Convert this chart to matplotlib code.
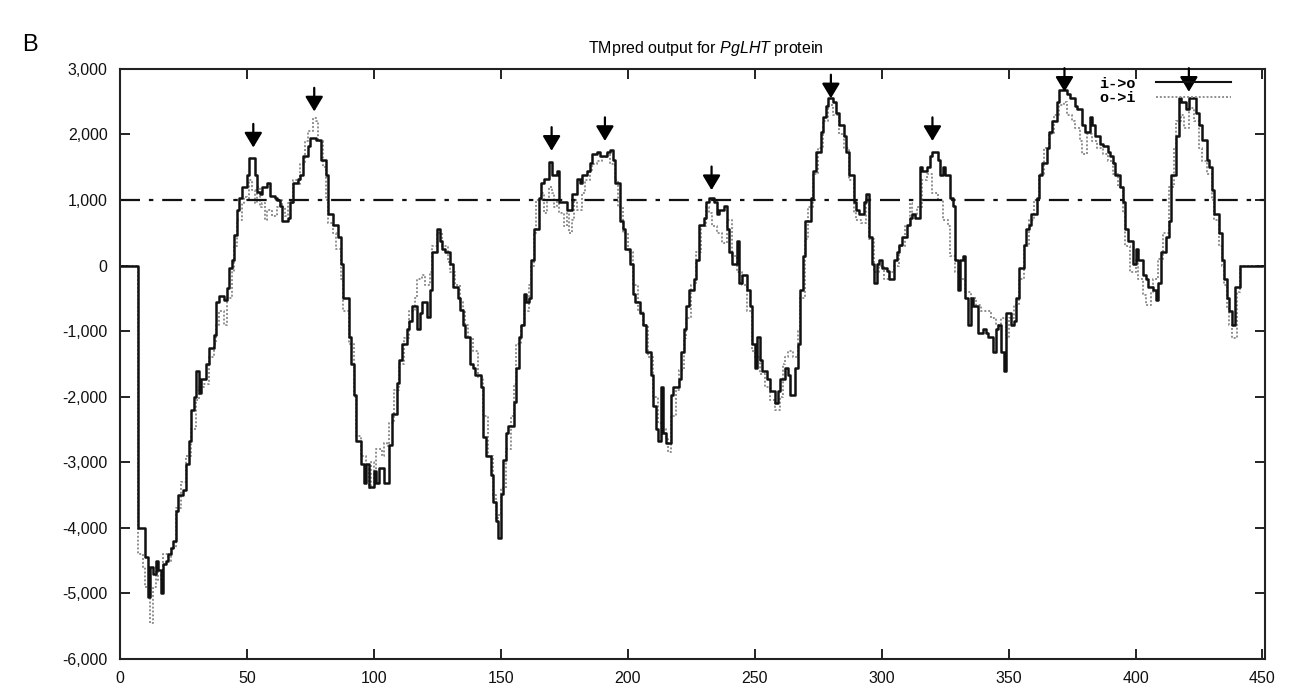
import matplotlib
matplotlib.use('Agg')
import matplotlib.pyplot as plt
from matplotlib.lines import Line2D

plt.rcParams['font.family'] = ['Liberation Sans', 'DejaVu Sans']
plt.rcParams['mathtext.fontset'] = 'custom'
plt.rcParams['mathtext.rm'] = 'Liberation Sans'
plt.rcParams['mathtext.it'] = 'Liberation Sans:italic'

# i->o orientation (solid black)
io_pos = [0, 7, 10, 11, 12, 13, 14, 15, 16, 17, 18, 19, 20, 21, 22, 23, 25, 26, 27, 28, 29, 30,
          31, 32, 34, 35, 37, 38, 39, 41, 42, 43, 44, 45, 46, 47, 48, 50, 51, 53, 54, 55, 56, 58,
          59, 61, 62, 63, 64, 66, 67, 68, 70, 71, 72, 74, 75, 77, 79, 81, 82, 84, 86, 87, 88, 90,
          91, 92, 93, 95, 96, 97, 98, 100, 101, 102, 104, 106, 107, 109, 110, 111, 113, 114, 115,
          117, 118, 119, 121, 122, 123, 125, 126, 127, 128, 130, 131, 133, 134, 135, 136, 138, 139,
          140, 142, 143, 144, 146, 147, 148, 149, 150, 151, 152, 153, 155, 156, 157, 158, 159, 160,
          161, 162, 163, 165, 166, 167, 169, 170, 172, 173, 176, 178, 180, 181, 182, 184, 185, 186,
          188, 189, 192, 193, 194, 195, 197, 198, 199, 201, 202, 203, 205, 206, 207, 209, 210, 211,
          212, 213, 214, 215, 217, 218, 220, 221, 222, 223, 224, 226, 227, 228, 230, 231, 232, 234,
          235, 236, 238, 239, 240, 241, 243, 244, 245, 247, 248, 249, 250, 251, 252, 253, 255, 256,
          258, 259, 260, 262, 263, 264, 266, 267, 268, 269, 270, 272, 273, 274, 276, 277, 278, 279,
          281, 282, 283, 285, 286, 287, 289, 290, 291, 293, 294, 295, 296, 297, 298, 299, 300, 302,
          303, 305, 306, 307, 308, 310, 311, 312, 313, 315, 316, 318, 319, 320, 322, 323, 324, 325,
          327, 328, 329, 330, 331, 332, 333, 334, 335, 336, 338, 340, 341, 342, 344, 345, 346, 347,
          348, 349, 351, 352, 353, 354, 356, 357, 358, 359, 361, 362, 363, 365, 366, 367, 369, 370,
          372, 373, 374, 376, 377, 379, 380, 382, 383, 384, 386, 387, 389, 390, 391, 392, 394, 395,
          396, 397, 399, 400, 401, 403, 404, 405, 407, 408, 409, 410, 412, 413, 414, 416, 417, 418,
          420, 421, 423, 424, 425, 426, 428, 429, 430, 431, 433, 434, 435, 436, 437, 438, 439, 441,
          450]
io_val = [0, -4000, -4450, -5050, -4600, -4700, -4500, -4650, -5000, -4550, -4500, -4400, -4300,
          -4200, -3750, -3500, -3430, -3020, -2670, -2200, -2000, -1610, -1950, -1730, -1500, -1260,
          -1060, -560, -470, -530, -350, -30, 90, 470, 850, 1030, 1200, 1380, 1640, 1380, 1115,
          1090, 1200, 1260, 1060, 1030, 1000, 910, 675, 730, 970, 1260, 1320, 1380, 1670, 1820,
          1940, 1910, 1610, 1380, 790, 615, 440, 30, -500, -1090, -1500, -1970, -2670, -3020,
          -3320, -3020, -3380, -3140, -3320, -3080, -3320, -2730, -2260, -1790, -1440, -1200,
          -970, -850, -620, -970, -730, -560, -790, -380, 200, 560, 380, 260, 200, 30, -320, -500,
          -680, -910, -1090, -1500, -1560, -1670, -1850, -2610, -2910, -3200, -3610, -3900, -4150,
          -3490, -2960, -2550, -2440, -2080, -1560, -1090, -910, -440, -560, -500, 90, 560, 1030,
          1260, 1320, 1580, 1380, 1440, 970, 850, 1090, 1320, 1260, 1380, 1440, 1560, 1700, 1730,
          1670, 1730, 1760, 1610, 1260, 675, 560, 260, 30, -440, -560, -730, -910, -1320, -1670,
          -2140, -2500, -2670, -1850, -2550, -2700, -1970, -1850, -1730, -1320, -970, -620, -380,
          -200, 90, 615, 730, 970, 1030, 970, 790, 850, 910, 560, 200, 30, 380, -260, -150, -380,
          -620, -1200, -1560, -1090, -1440, -1610, -1730, -1910, -2100, -1910, -1730, -1560, -1670,
          -1970, -1560, -1200, -380, 150, 675, 1030, 1440, 1730, 2030, 2260, 2440, 2550, 2500,
          2320, 2140, 1970, 1730, 1380, 970, 850, 790, 970, 1090, 440, 30, -260, 30, 90, -30, -90,
          -200, 90, 200, 320, 440, 615, 730, 790, 730, 1500, 1440, 1500, 1670, 1730, 1610, 1380,
          1500, 1380, 1030, 910, 90, -380, 90, 150, -500, -910, -500, -620, -1030, -970, -1030,
          -1090, -1320, -970, -910, -1320, -1610, -730, -910, -850, -500, -30, 320, 560, 615, 790,
          1030, 1380, 1560, 1790, 2030, 2200, 2500, 2670, 2670, 2610, 2550, 2440, 2380, 2140,
          2030, 2260, 2140, 1970, 1850, 1820, 1730, 1670, 1560, 1380, 1200, 970, 560, 380, 30, 260,
          90, -150, -200, -320, -380, -530, -260, 200, 440, 675, 1380, 1970, 2550, 2500, 2380,
          2550, 2550, 2320, 2140, 1910, 1610, 1500, 1150, 790, 500, 90, -200, -500, -700, -900,
          -320, 0, 0]

# o->i orientation (grey dotted)
oi_pos = [0, 7, 9, 10, 12, 13, 14, 15, 16, 17, 19, 20, 22, 24, 26, 28, 30, 31, 33, 35, 37, 38,
          39, 41, 42, 44, 45, 46, 48, 49, 50, 51, 52, 53, 54, 55, 56, 57, 58, 60, 62, 63, 64, 65,
          66, 68, 70, 71, 73, 74, 76, 77, 78, 80, 81, 82, 84, 85, 87, 88, 90, 92, 93, 95, 97, 98,
          99, 100, 101, 103, 104, 105, 106, 108, 110, 112, 114, 116, 117, 119, 120, 122, 123, 125,
          127, 129, 130, 132, 134, 135, 136, 137, 139, 141, 143, 145, 147, 148, 149, 150, 152, 154,
          155, 156, 158, 159, 161, 162, 163, 164, 166, 167, 168, 169, 170, 171, 172, 173, 175, 176,
          177, 178, 179, 180, 182, 183, 185, 186, 188, 190, 192, 193, 195, 196, 198, 200, 202, 204,
          206, 208, 210, 212, 214, 215, 216, 217, 219, 220, 222, 223, 225, 227, 229, 231, 232, 233,
          235, 237, 239, 241, 243, 245, 247, 249, 250, 252, 254, 256, 258, 260, 261, 262, 263, 265,
          267, 268, 270, 271, 273, 275, 277, 279, 281, 283, 285, 287, 289, 290, 292, 294, 295, 297,
          299, 301, 303, 305, 307, 309, 311, 312, 314, 316, 318, 320, 322, 324, 326, 327, 329, 331,
          333, 335, 337, 339, 341, 343, 345, 347, 349, 350, 352, 354, 356, 358, 360, 362, 364, 366,
          368, 370, 372, 373, 375, 376, 378, 379, 381, 383, 385, 387, 389, 391, 393, 395, 396, 398,
          400, 401, 403, 404, 406, 407, 409, 411, 413, 415, 416, 418, 419, 421, 423, 425, 426, 428,
          430, 431, 433, 434, 435, 436, 437, 438, 440, 441, 450]
oi_val = [0, -4400, -4600, -4900, -5450, -4900, -4600, -4800, -4700, -4400, -4500, -4300, -3700,
          -3300, -2900, -2500, -2050, -1850, -1800, -1400, -1200, -900, -700, -900, -500, -100,
          300, 700, 950, 1050, 1000, 1300, 1150, 950, 1200, 900, 950, 700, 850, 750, 900, 1000,
          900, 750, 950, 1300, 1250, 1550, 1900, 2050, 2250, 2200, 1900, 1500, 1000, 650, 500,
          250, -200, -700, -1200, -2000, -2600, -2900, -3100, -3400, -3000, -3300, -2800, -2900,
          -2700, -2750, -2400, -1900, -1500, -1100, -700, -500, -200, -150, -300, -100, 300, 500,
          300, 50, -100, -300, -550, -700, -900, -1100, -1300, -1700, -2300, -2900, -3500, -3900,
          -3800, -3400, -2800, -2300, -1800, -1200, -900, -700, -300, 0, 500, 1000, 1100, 800,
          1000, 1200, 1100, 900, 1000, 800, 600, 800, 500, 700, 1000, 850, 1100, 1300, 1450, 1550,
          1600, 1650, 1700, 1550, 1300, 900, 500, 200, -300, -700, -900, -1400, -2000, -2400,
          -2500, -2650, -2850, -2300, -1900, -1600, -1100, -800, -300, 200, 600, 900, 800, 600,
          500, 350, 700, 150, -100, -300, -700, -1300, -1400, -1650, -1850, -2050, -2200, -2000,
          -1500, -1400, -1300, -1400, -1000, -500, 400, 900, 1400, 1800, 2200, 2450, 2300, 2000,
          1800, 1300, 800, 700, 650, 1000, 400, -100, 0, -200, -100, 0, 300, 600, 950, 750, 900,
          1300, 1400, 1100, 1000, 700, 600, 150, -100, -200, -400, -500, -600, -700, -700, -800,
          -900, -800, -1100, -800, -600, -200, 300, 700, 1000, 1400, 1800, 2000, 2300, 2450, 2500,
          2300, 2200, 2100, 1900, 1700, 2000, 1900, 1800, 1700, 1600, 1400, 1200, 800, 300, -100,
          100, -200, -450, -600, -400, -200, 100, 500, 1200, 1800, 2200, 2300, 2100, 2400, 2200,
          1800, 1600, 1400, 1000, 700, 300, 0, -300, -650, -900, -1100, -400, 0, 0]

threshold = 1000

# arrows marking the predicted helices
arrow_pos = [52.5, 76.5, 170, 191, 233, 280, 320, 372, 421]
arrow_tip = [1800, 2350, 1750, 1900, 1150, 2550, 1900, 2650, 2650]

x_ticks = list(range(0, 451, 50))
y_ticks = list(range(-6000, 3001, 1000))

fig = plt.figure(figsize=(12.96, 6.87), dpi=100)
ax = fig.add_axes([0.0926, 0.0408, 0.8835, 0.859])

ax.step(oi_pos, oi_val, where='post', color='#8f8f8f', lw=1.4, ls=(0, (1, 1)))
ax.step(io_pos, io_val, where='post', color='#111111', lw=1.8)
ax.axhline(threshold, color='#111111', lw=1.6, ls=(0, (9, 4, 2, 4)))

for xa, ya in zip(arrow_pos, arrow_tip):
    ax.annotate('', xy=(xa, ya), xytext=(0, 17), textcoords='offset points',
                arrowprops=dict(arrowstyle='-|>,head_length=0.45,head_width=0.27',
                                color='k', lw=1.6, shrinkA=0, shrinkB=0,
                                mutation_scale=20))

ax.set_xlim(0, 451)
ax.set_ylim(-6000, 3000)
ax.set_xticks(x_ticks)
ax.set_yticks(y_ticks)
ax.set_yticklabels([f'{v:,}' for v in y_ticks])
ax.tick_params(direction='in', length=7, width=1.3, top=True, right=True,
               labelsize=11.5, pad=9, colors='#111111')
for s in ax.spines.values():
    s.set_linewidth(1.5)
    s.set_color('#222222')

handles = [Line2D([], [], color='#111111', lw=1.5),
           Line2D([], [], color='#8f8f8f', lw=1.4, ls=(0, (1, 1)))]
ax.legend(handles, ['i->o', 'o->i'], loc='upper right', bbox_to_anchor=(0.982, 1.01),
          frameon=False, markerfirst=False, handlelength=4.9, labelspacing=0.05,
          handletextpad=1.3, prop={'family': 'Liberation Mono', 'size': 11, 'weight': 'bold'})

fig.text(0.545, 0.93, 'TMpred output for $\\mathit{PgLHT}$ protein', ha='center', va='center',
         fontsize=11.5)
fig.text(0.017, 0.935, 'B', fontsize=17, ha='left', va='center')

fig.savefig('out.png', dpi=100)
